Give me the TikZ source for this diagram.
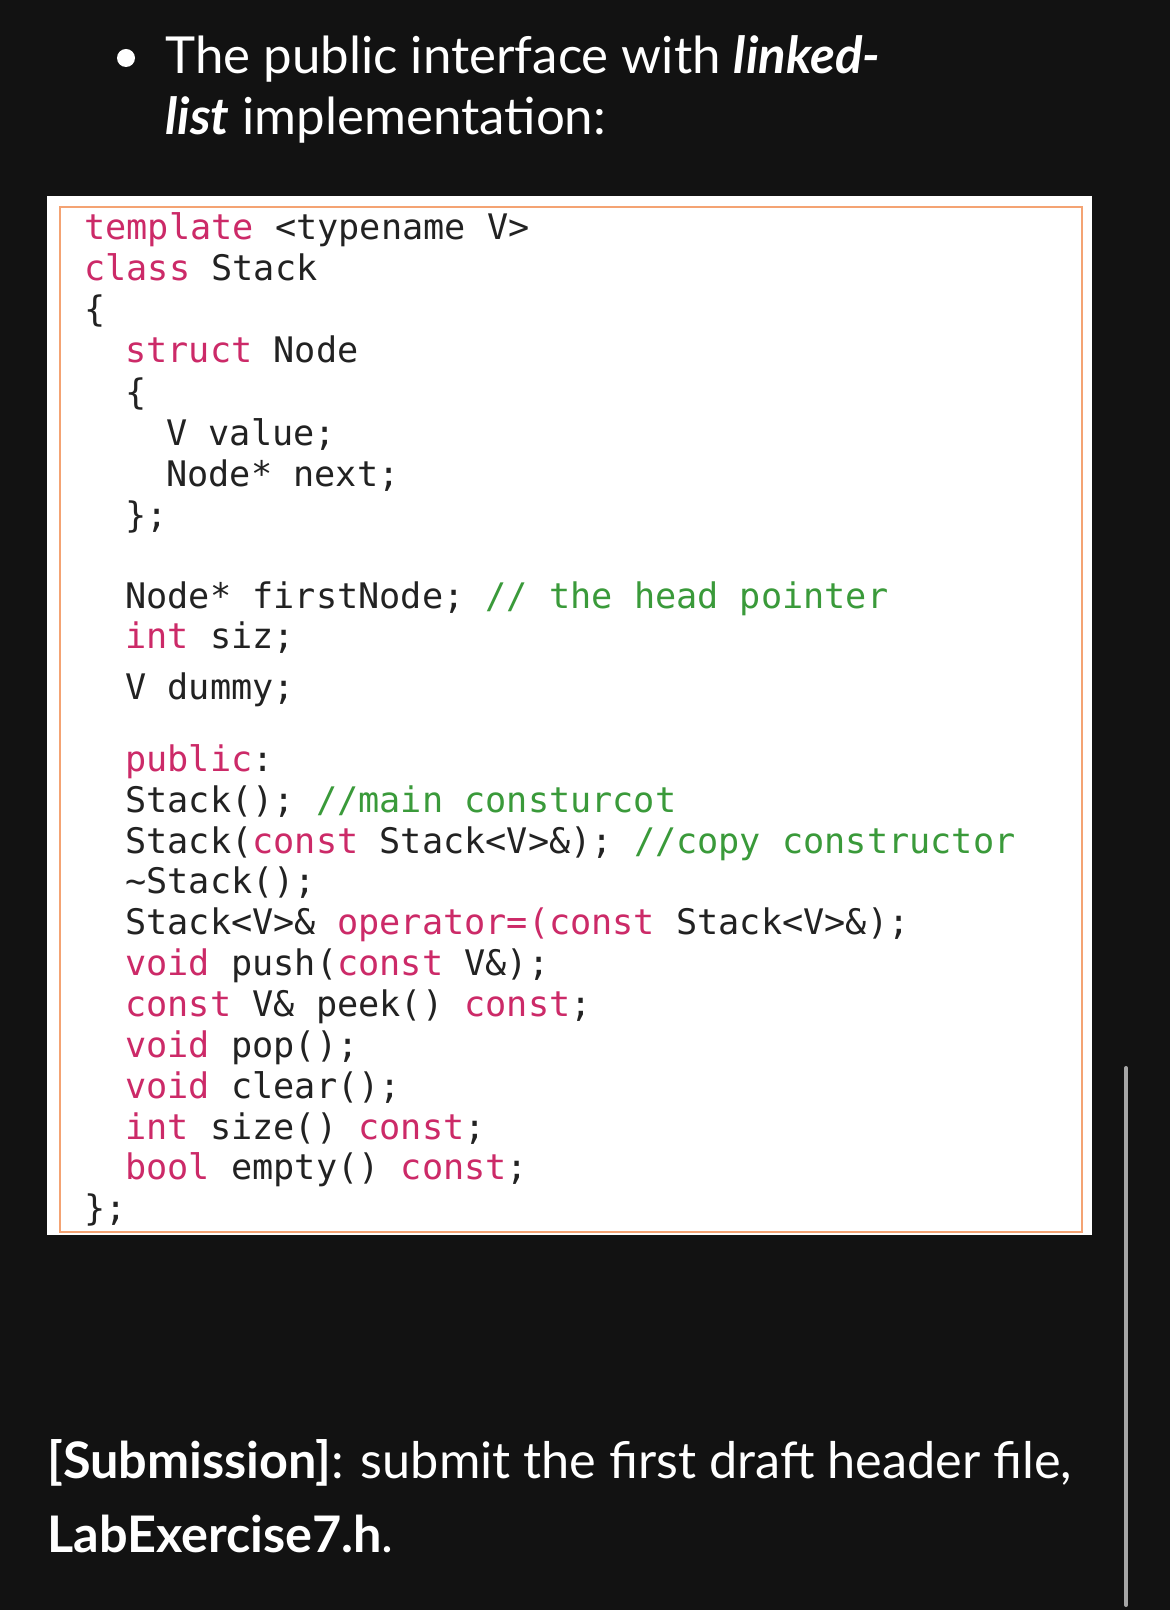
\documentclass[tikz,border=0pt]{standalone}
\usepackage{fontspec}
\setmainfont{Lato}
\newfontfamily\codefont{DejaVu Sans Mono}
\definecolor{bg}{HTML}{121212}
\definecolor{kw}{HTML}{CC2A68}
\definecolor{cm}{HTML}{3A9A3A}
\definecolor{tx}{HTML}{222222}
\definecolor{bd}{HTML}{F4A373}
\newcommand\kw[1]{\textcolor{kw}{#1}}
\newcommand\cm[1]{\textcolor{cm}{#1}}
\begin{document}
\begin{tikzpicture}[x=0.5pt,y=-0.5pt,
  code/.style={anchor=base west,inner sep=0pt,font=\codefont\fontsize{17.6pt}{20pt}\selectfont,text=tx},
  head/.style={anchor=base west,inner sep=0pt,text=white,font=\fontsize{25.5pt}{30pt}\selectfont},
  sub/.style={anchor=base west,inner sep=0pt,text=white,font=\fontsize{25.2pt}{30pt}\selectfont}]
\fill[bg] (0,0) rectangle (1170,1610);
\useasboundingbox (0,0) rectangle (1170,1610);
\fill[white] (47,196) rectangle (1092,1235);
\draw[bd,line width=1pt] (60,207) rectangle (1082,1232);
\fill[white] (126,58) circle (9);
\node[head] (h1) at (165,74) {The public interface with \textbf{\textit{linked-}}};
\node[head] (h2) at (165,135) {\textbf{\textit{list}} implementation:};
\node[code] (l1) at (84,240) {\kw{template} <typename V>};
\node[code] (l2) at (84,281) {\kw{class} Stack};
\node[code] (l3) at (84,322) {\{};
\node[code] (l4) at (125,363) {\kw{struct} Node};
\node[code] (l5) at (125,404) {\{};
\node[code] (l6) at (166,445) {V value;};
\node[code] (l7) at (166,486) {Node* next;};
\node[code] (l8) at (125,527) {\};};
\node[code] (l9) at (125,608) {Node* firstNode; \cm{// the head pointer}};
\node[code] (l10) at (125,648) {\kw{int} siz;};
\node[code] (l11) at (125,699) {V dummy;};
\node[code] (l12) at (125,771) {\kw{public}:};
\node[code] (l13) at (125,812) {Stack(); \cm{//main consturcot}};
\node[code] (l14) at (125,853) {Stack(\kw{const} Stack<V>\&); \cm{//copy constructor}};
\node[code] (l15) at (125,893) {\textasciitilde Stack();};
\node[code] (l16) at (125,934) {Stack<V>\& \kw{operator=(const} Stack<V>\&);};
\node[code] (l17) at (125,975) {\kw{void} push(\kw{const} V\&);};
\node[code] (l18) at (125,1016) {\kw{const} V\& peek() \kw{const};};
\node[code] (l19) at (125,1057) {\kw{void} pop();};
\node[code] (l20) at (125,1098) {\kw{void} clear();};
\node[code] (l21) at (125,1139) {\kw{int} size() \kw{const};};
\node[code] (l22) at (125,1179) {\kw{bool} empty() \kw{const};};
\node[code] (l23) at (84,1220) {\};};
\node[sub] (s1) at (47,1478) {\textbf{[Submission]}: submit the first draft header file,};
\node[sub] (s2) at (47,1552) {\textbf{LabExercise7.h}.};
\draw[gray!70,line width=2pt,line cap=round] (1126,1068) -- (1126,1605);
\end{tikzpicture}
\end{document}
